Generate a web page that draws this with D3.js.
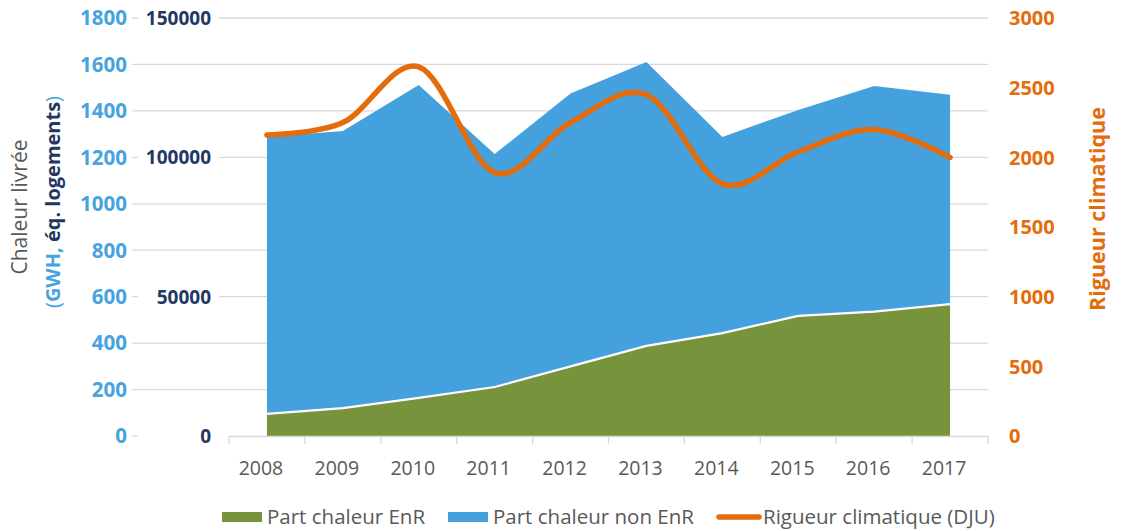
<!DOCTYPE html>
<html>
<head>
<meta charset="utf-8">
<script src="https://cdn.jsdelivr.net/npm/d3@7"></script>
<style>
  body{margin:0;background:#fff;}
  svg text{font-family:"Open Sans",sans-serif;}
</style>
</head>
<body>
<div id="chart"></div>
<script>
// values
const years = ['2008','2009','2010','2011','2012','2013','2014','2015','2016','2017'];
const partEnR = [95, 120, 164, 211, 300, 388, 443, 517, 536, 568];
const partNonEnR = [1193, 1193, 1348, 1003, 1175, 1223, 845, 887, 971, 901];
const rigueur = [2160, 2250, 2650, 1890, 2250, 2450, 1810, 2040, 2200, 2000];

const leftTicks = [0, 200, 400, 600, 800, 1000, 1200, 1400, 1600, 1800];
const logTicks = [0, 50000, 100000, 150000];
const rightTicks = [0, 500, 1000, 1500, 2000, 2500, 3000];

const colors = {enr:'#77933C', non:'#45A1DE', line:'#E46C0A', grid:'#D9D9D9',
                blueTxt:'#47A3E0', navy:'#1F3864', grey:'#595959'};

const W = 1121, H = 531;
const svg = d3.select('#chart').append('svg')
              .attr('width', W).attr('height', H);

// scales
const x = d3.scaleBand().domain(years).range([229, 988]).padding(0);
const cx = d => x(d) + x.bandwidth()/2;
const y = d3.scaleLinear().domain([0, 1800]).range([436, 18]);
const yLog = d3.scaleLinear().domain([0, 150000]).range([436, 18]);
const yR = d3.scaleLinear().domain([0, 3000]).range([436, 18]);

// gridlines
const grid = svg.append('g').attr('class','grid');
grid.selectAll('line').data(leftTicks.filter(d => d > 0)).enter()
    .append('line')
    .attr('x1', 132).attr('x2', 988)
    .attr('y1', d => y(d)).attr('y2', d => y(d))
    .attr('stroke', colors.grid).attr('stroke-width', 1.3);
grid.append('line')
    .attr('x1', 132).attr('x2', 138)
    .attr('y1', y(0)).attr('y2', y(0))
    .attr('stroke', colors.grid).attr('stroke-width', 1.3);

// stacked areas
const rows = years.map((yr, i) => ({year: yr, enr: partEnR[i], non: partNonEnR[i]}));
const stacked = d3.stack().keys(['enr','non'])(rows);

const area = d3.area()
               .x(d => cx(d.data.year))
               .y0(d => y(d[0]))
               .y1(d => y(d[1]));

svg.append('g').attr('class','areas')
   .selectAll('path').data(stacked).enter()
   .append('path')
   .attr('d', area)
   .attr('fill', d => d.key === 'enr' ? colors.enr : colors.non);

// white border on top of EnR part
svg.append('path')
   .datum(stacked[0])
   .attr('d', d3.line().x(d => cx(d.data.year)).y(d => y(d[1])))
   .attr('fill','none')
   .attr('stroke','#fff')
   .attr('stroke-width', 2.2);

// x axis
const xAxisG = svg.append('g').attr('class','x-axis');
xAxisG.append('line')
      .attr('x1', 229).attr('x2', 988)
      .attr('y1', 436.5).attr('y2', 436.5)
      .attr('stroke', colors.grid).attr('stroke-width', 1.5);
xAxisG.selectAll('.tk').data(years.map(d => x(d)).concat([988])).enter()
      .append('line')
      .attr('class','tk')
      .attr('x1', d => d).attr('x2', d => d)
      .attr('y1', 436).attr('y2', 444)
      .attr('stroke', colors.grid).attr('stroke-width', 1.3);
xAxisG.selectAll('text').data(years).enter()
      .append('text')
      .attr('x', d => cx(d) - 6)
      .attr('y', 468)
      .attr('dy','0.35em')
      .attr('text-anchor','middle')
      .attr('fill', colors.grey)
      .style('font-size','19.5px')
      .text(d => d);

// left axis (GWh)
svg.append('g').selectAll('text').data(leftTicks).enter()
   .append('text')
   .attr('x', 127).attr('y', d => y(d))
   .attr('dy','0.36em')
   .attr('text-anchor','end')
   .attr('fill', colors.blueTxt)
   .style('font-size','20.5px').style('font-weight','bold')
   .text(d => d);

// second left axis (logements) with white boxes
const logG = svg.append('g');
logG.selectAll('rect').data(logTicks).enter()
    .append('rect')
    .attr('x', 138).attr('width', 81)
    .attr('y', d => yLog(d) - 4).attr('height', 8)
    .attr('fill','#fff');
logG.selectAll('text').data(logTicks).enter()
    .append('text')
    .attr('x', 211).attr('y', d => yLog(d))
    .attr('dy','0.36em')
    .attr('text-anchor','end')
    .attr('fill', colors.navy)
    .style('font-size','19px').style('font-weight','bold')
    .text(d => d);

// right axis (DJU)
svg.append('g').selectAll('text').data(rightTicks).enter()
   .append('text')
   .attr('x', 1009).attr('y', d => yR(d))
   .attr('dy','0.36em')
   .attr('fill', colors.line)
   .style('font-size','20px').style('font-weight','bold')
   .text(d => d);

// smoothed DJU line
svg.append('path')
   .datum(rigueur)
   .attr('d', d3.line()
                .x((d, i) => cx(years[i]))
                .y(d => yR(d))
                .curve(d3.curveCatmullRom.alpha(0)))
   .attr('fill','none')
   .attr('stroke', colors.line)
   .attr('stroke-width', 5.5)
   .attr('stroke-linecap','round')
   .attr('stroke-linejoin','round');

// axis titles
const lt = svg.append('text')
              .attr('transform','translate(27,207) rotate(-90)')
              .attr('text-anchor','middle')
              .style('font-size','21px');
lt.append('tspan').attr('fill', colors.grey).text('Chaleur livrée');

const lt2 = svg.append('text')
               .attr('transform','translate(60,202) rotate(-90)')
               .attr('text-anchor','middle')
               .style('font-size','20px');
lt2.append('tspan').attr('fill', colors.blueTxt).text('(');
lt2.append('tspan').attr('fill', colors.blueTxt).style('font-weight','bold').text('GWH,');
lt2.append('tspan').attr('fill', colors.navy).style('font-weight','bold').text(' éq. logements');
lt2.append('tspan').attr('fill', colors.blueTxt).text(')');

svg.append('text')
   .attr('transform','translate(1105,209) rotate(-90)')
   .attr('text-anchor','middle')
   .attr('fill', colors.line)
   .style('font-size','21.5px').style('font-weight','bold')
   .text('Rigueur climatique');

// legend
const legendItems = [
  {label:'Part chaleur EnR', color: colors.enr, type:'rect', x:222},
  {label:'Part chaleur non EnR', color: colors.non, type:'rect', x:448},
  {label:'Rigueur climatique (DJU)', color: colors.line, type:'line', x:716}
];
const lg = svg.append('g').attr('class','legend');
const items = lg.selectAll('g').data(legendItems).enter()
                .append('g')
                .attr('transform', d => 'translate(' + d.x + ',517)');
items.filter(d => d.type === 'rect').append('rect')
     .attr('x', 0).attr('y', -5).attr('width', 40).attr('height', 10)
     .attr('fill', d => d.color);
items.filter(d => d.type === 'line').append('line')
     .attr('x1', 3).attr('x2', 43).attr('y1', 0).attr('y2', 0)
     .attr('stroke', d => d.color).attr('stroke-width', 5.5)
     .attr('stroke-linecap','round');
items.append('text')
     .attr('x', d => d.type === 'line' ? 47 : 45)
     .attr('y', 0).attr('dy','0.35em')
     .attr('fill', colors.grey)
     .style('font-size','20.5px')
     .text(d => d.label);
</script>
</body>
</html>
